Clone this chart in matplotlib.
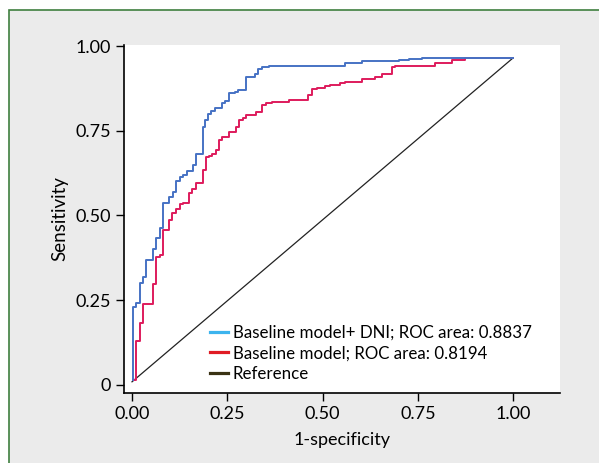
import numpy as np
import matplotlib
matplotlib.use("Agg")
import matplotlib.pyplot as plt
from matplotlib.lines import Line2D
from matplotlib.patches import Rectangle

plt.rcParams['font.family'] = ['Lato', 'DejaVu Sans']

# ROC step points (1-specificity, sensitivity)
dni_x = [0.003, 0.003, 0.011, 0.020, 0.029, 0.038, 0.055, 0.064, 0.073, 0.081,
         0.097, 0.108, 0.116, 0.125, 0.134, 0.143, 0.160, 0.169, 0.185, 0.192,
         0.200, 0.207, 0.218, 0.235, 0.244, 0.255, 0.270, 0.279, 0.298, 0.323,
         0.331, 0.340, 0.360, 0.560, 0.604, 0.701, 0.727, 0.761, 1.000]
dni_y = [0.015, 0.231, 0.243, 0.302, 0.317, 0.369, 0.401, 0.433, 0.462, 0.536,
         0.555, 0.570, 0.602, 0.613, 0.619, 0.632, 0.649, 0.681, 0.760, 0.782,
         0.799, 0.809, 0.816, 0.831, 0.839, 0.860, 0.865, 0.870, 0.909, 0.917,
         0.932, 0.937, 0.941, 0.951, 0.955, 0.959, 0.963, 0.965, 0.965]

base_x = [0.003, 0.011, 0.020, 0.029, 0.055, 0.064, 0.073, 0.081, 0.097, 0.106,
          0.115, 0.125, 0.134, 0.150, 0.158, 0.167, 0.185, 0.193, 0.202, 0.211,
          0.220, 0.228, 0.237, 0.255, 0.272, 0.281, 0.290, 0.298, 0.325, 0.342,
          0.351, 0.368, 0.412, 0.463, 0.472, 0.485, 0.507, 0.520, 0.546, 0.559,
          0.603, 0.638, 0.655, 0.682, 0.690, 0.795, 0.839, 0.874, 1.000]
base_y = [0.015, 0.128, 0.182, 0.238, 0.297, 0.378, 0.383, 0.457, 0.487, 0.506,
          0.518, 0.534, 0.538, 0.565, 0.577, 0.595, 0.634, 0.673, 0.676, 0.681,
          0.693, 0.723, 0.732, 0.747, 0.760, 0.782, 0.787, 0.796, 0.806, 0.826,
          0.831, 0.836, 0.841, 0.855, 0.872, 0.875, 0.882, 0.885, 0.890, 0.895,
          0.902, 0.909, 0.917, 0.939, 0.942, 0.951, 0.959, 0.965, 0.965]

ref_x = [0.0, 1.0]
ref_y = [0.009, 0.965]

xticks = [0, 0.25, 0.5, 0.75, 1.0]
xlabels = ['0.00', '0.25', '0.50', '0.75', '1.00']
yticks = [0, 0.25, 0.5, 0.75, 1.0]
ylabels = ['0', '0.25', '0.50', '0.75', '1.00']

legend_labels = ['Baseline model+ DNI; ROC area: 0.8837',
                 'Baseline model; ROC area: 0.8194',
                 'Reference']

fig = plt.figure(figsize=(5.99, 4.63), dpi=100)
fig.patch.set_facecolor('white')
# grey panel with green frame
fig.patches.append(Rectangle((9 / 599, -0.05), 1.2, 1 - 10 / 463 + 0.05,
                             transform=fig.transFigure, facecolor='#ebebeb',
                             edgecolor='#3f7f3f', linewidth=1.2, zorder=-10))

ax = fig.add_axes([124 / 599, 1 - 393 / 463, 436 / 599, 348 / 463])
ax.set_facecolor('white')

ax.plot(ref_x, ref_y, color='#222222', linewidth=0.9)
ax.plot(base_x, base_y, drawstyle='steps-post', color='#de1b5c', linewidth=1.4)
ax.plot(dni_x, dni_y, drawstyle='steps-post', color='#4672c4', linewidth=1.4)

ax.set_xlim(-0.021, 1.123)
ax.set_ylim(-0.024, 1.003)
ax.set_xticks(xticks)
ax.set_xticklabels(xlabels)
ax.set_yticks(yticks)
ax.set_yticklabels(ylabels)
ax.tick_params(direction='out', length=6, width=1, labelsize=13, colors='black')

for s in ['top', 'right']:
    ax.spines[s].set_visible(False)
for s in ['left', 'bottom']:
    ax.spines[s].set_linewidth(1.2)

ax.set_xlabel('1-specificity', fontsize=13, labelpad=7)
ax.set_ylabel('Sensitivity', fontsize=13.5, labelpad=5)

handles = [Line2D([], [], color='#3cb4ee', linewidth=2.3),
           Line2D([], [], color='#e01c24', linewidth=2.3),
           Line2D([], [], color='#3a3214', linewidth=2.3)]
ax.legend(handles, legend_labels, loc='lower left', bbox_to_anchor=(0.197, 0.033),
          frameon=False, fontsize=12.2, handlelength=1.05, handletextpad=0.3,
          labelspacing=0.25, borderpad=0, borderaxespad=0)

fig.savefig('out.png', dpi=100)
